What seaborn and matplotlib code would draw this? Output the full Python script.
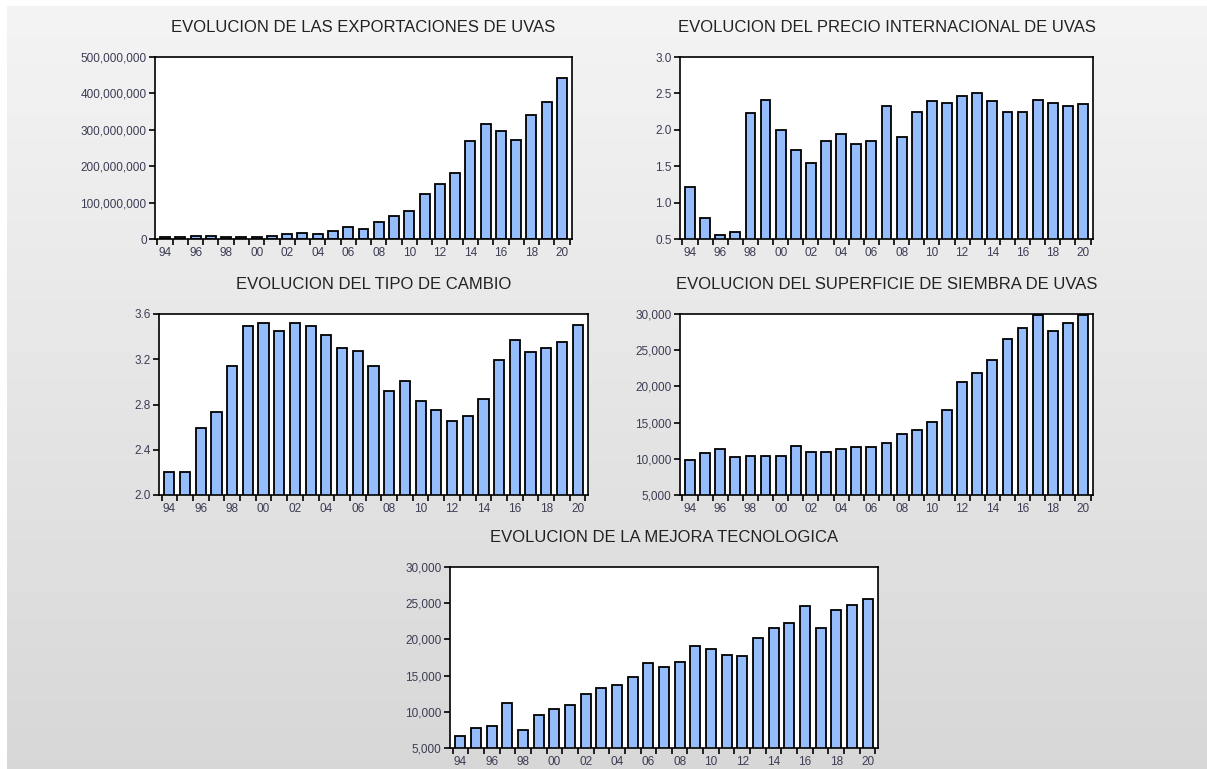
import numpy as np
import pandas as pd
import seaborn as sns
import matplotlib.pyplot as plt
from matplotlib.ticker import FuncFormatter

# datos
anios = list(range(1994, 2021))

exportaciones = [5e6, 5e6, 9e6, 9e6, 5e6, 5e6, 5e6, 9e6, 13e6, 17e6, 13e6, 21e6,
                 32e6, 28e6, 48e6, 64e6, 78e6, 124e6, 152e6, 180e6, 269e6, 315e6,
                 297e6, 273e6, 342e6, 377e6, 442e6]

precio = [1.22, 0.79, 0.56, 0.60, 2.23, 2.41, 2.00, 1.72, 1.55, 1.84, 1.94, 1.80,
          1.84, 2.33, 1.90, 2.25, 2.39, 2.37, 2.46, 2.50, 2.39, 2.25, 2.25, 2.41,
          2.37, 2.33, 2.35]

tipo_cambio = [2.20, 2.20, 2.59, 2.73, 3.14, 3.49, 3.52, 3.45, 3.52, 3.49, 3.41,
               3.30, 3.27, 3.14, 2.92, 3.01, 2.83, 2.75, 2.65, 2.70, 2.85, 3.19,
               3.37, 3.26, 3.30, 3.35, 3.50]

superficie = [9800, 10800, 11400, 10200, 10400, 10400, 10400, 11800, 11000, 11000,
              11400, 11600, 11600, 12200, 13400, 14000, 15100, 16700, 20600, 21800,
              23700, 26600, 28000, 29800, 27600, 28800, 29800]

tecnologia = [6700, 7700, 8100, 11200, 7500, 9600, 10400, 11000, 12500, 13300,
              13700, 14800, 16700, 16200, 16900, 19100, 18700, 17900, 17700, 20200,
              21600, 22300, 24600, 21600, 24100, 24800, 25600]

titulos = ['EVOLUCION DE LAS EXPORTACIONES DE UVAS',
           'EVOLUCION DEL PRECIO INTERNACIONAL DE UVAS',
           'EVOLUCION DEL TIPO DE CAMBIO',
           'EVOLUCION DEL SUPERFICIE DE SIEMBRA DE UVAS',
           'EVOLUCION DE LA MEJORA TECNOLOGICA']

yticks = [np.arange(0, 5.01e8, 1e8),
          np.arange(0.5, 3.01, 0.5),
          np.arange(2.0, 3.61, 0.4),
          np.arange(5000, 30001, 5000),
          np.arange(5000, 30001, 5000)]

formatos = ['{:,.0f}', '{:.1f}', '{:.1f}', '{:,.0f}', '{:,.0f}']

df = pd.DataFrame({
    'anio': [str(a)[2:] for a in anios],
    'exportaciones': exportaciones,
    'precio': precio,
    'tipo_cambio': tipo_cambio,
    'superficie': superficie,
    'tecnologia': tecnologia,
})
columnas = ['exportaciones', 'precio', 'tipo_cambio', 'superficie', 'tecnologia']

sns.set_theme(style='ticks', rc={
    'axes.edgecolor': 'black',
    'axes.linewidth': 1.2,
    'xtick.color': 'black',
    'ytick.color': 'black',
    'xtick.labelcolor': '#3c3c55',
    'ytick.labelcolor': '#3c3c55',
})
plt.rcParams['font.family'] = ['Liberation Sans', 'DejaVu Sans']

W, H = 1207, 769
fig = plt.figure(figsize=(W / 100, H / 100), dpi=100)
fig.patch.set_facecolor('white')

# fondo degradado gris
bg = fig.add_axes([7 / W, 0, 1 - 7 / W, 1 - 6 / H], zorder=-10)
grad = np.linspace(0.957, 0.845, 256).reshape(-1, 1)
bg.imshow(np.dstack([grad, grad, grad]), aspect='auto', extent=[0, 1, 0, 1])
bg.set_axis_off()

# posiciones en pixeles: izquierda, derecha, arriba, abajo
cajas = [(155, 572, 57, 239),
         (680, 1093, 57, 239),
         (159, 588, 314, 495),
         (680, 1093, 314, 495),
         (450, 878, 567, 748)]

n = len(anios)
for col, titulo, yt, fmt, (l, r, t, b) in zip(columnas, titulos, yticks, formatos, cajas):
    ax = fig.add_axes([l / W, 1 - b / H, (r - l) / W, (b - t) / H])
    ax.set_facecolor('white')
    sns.barplot(data=df, x='anio', y=col, color='#96bdfb', saturation=1,
                edgecolor='black', linewidth=1.3, width=0.65, ax=ax)
    ax.set_xlim(-0.66, n - 0.34)
    ax.set_ylim(yt[0], yt[-1])
    ax.set_yticks(yt)
    ax.yaxis.set_major_formatter(FuncFormatter(lambda v, p, f=fmt: f.format(v)))
    ax.set_xticks(np.arange(-0.5, n, 1), [''] * (n + 1))
    pares = list(range(0, n, 2))
    ax.set_xticks(pares, [df['anio'][i] for i in pares], minor=True)
    ax.tick_params(axis='x', which='major', length=4, width=1.2, direction='out')
    ax.tick_params(axis='x', which='minor', length=0, pad=6, labelsize=8.5)
    ax.tick_params(axis='y', length=4, width=1.2, pad=2, labelsize=8.5)
    ax.set_xlabel('')
    ax.set_ylabel('')
    ax.set_title(titulo, fontsize=12, pad=18, color='#222222')
    for s in ax.spines.values():
        s.set_visible(True)
        s.set_color('black')
        s.set_linewidth(1.2)

fig.savefig('out.png', dpi=100)
